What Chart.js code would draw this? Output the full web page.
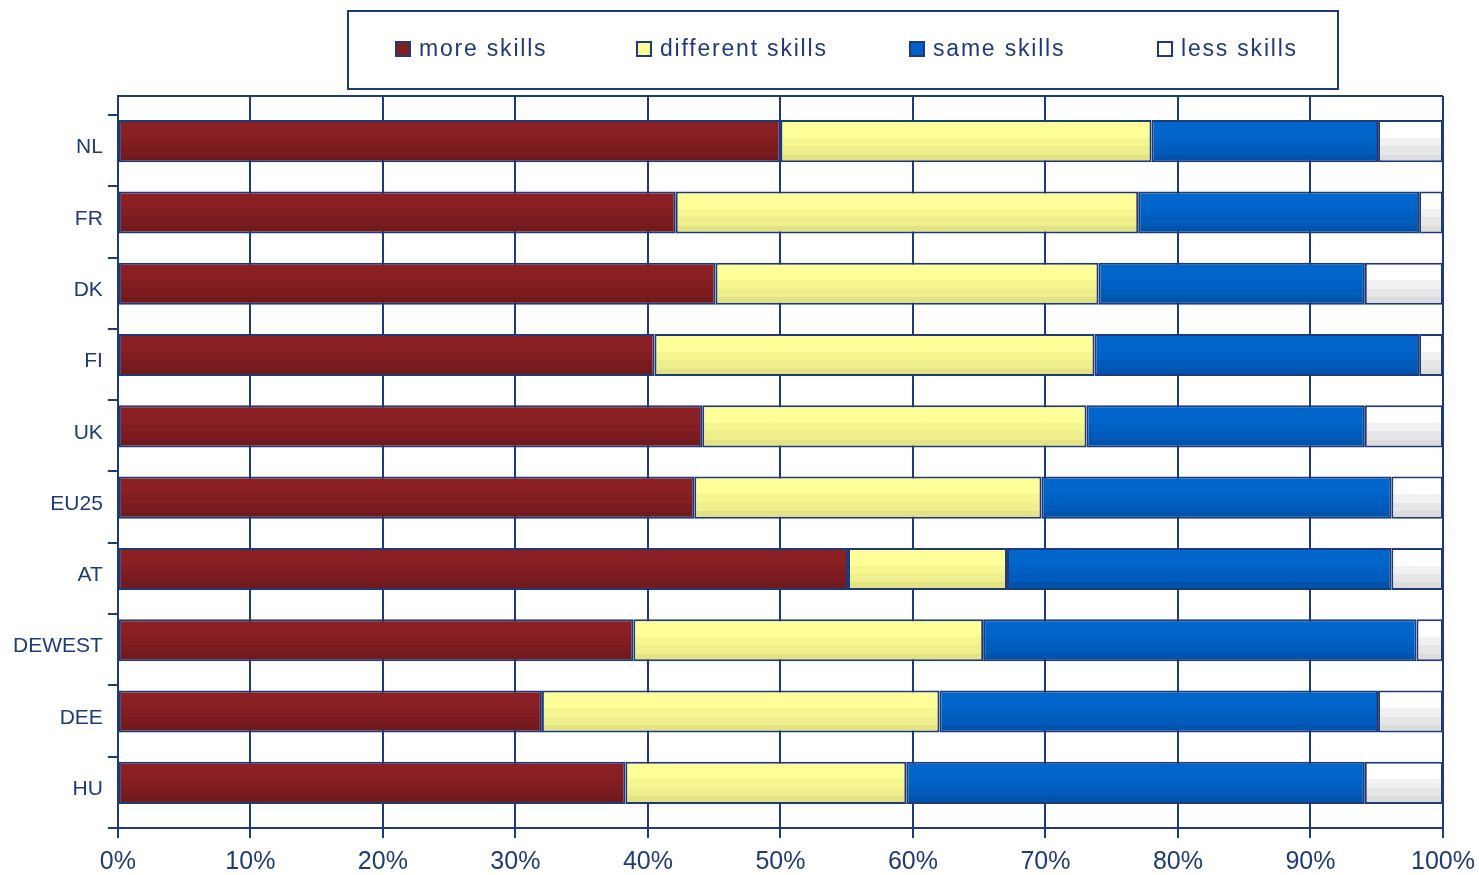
<!DOCTYPE html>
<html>
<head>
<meta charset="utf-8">
<script src="https://cdn.jsdelivr.net/npm/chart.js@4/dist/chart.umd.min.js"></script>
<style>
  body { margin: 0; background: #fff; }
  #wrap { width: 1479px; height: 875px; position: relative; }
</style>
</head>
<body>
<div id="wrap"><canvas id="skillsChart"></canvas></div>
<script>
var countries = ['NL', 'FR', 'DK', 'FI', 'UK', 'EU25', 'AT', 'DEWEST', 'DEE', 'HU'];
var moreSkills      = [50.0, 42.1, 45.1, 40.5, 44.1, 43.5, 55.1, 38.9, 32.0, 38.3];
var differentSkills = [28.0, 34.9, 28.9, 33.2, 29.0, 26.2, 12.0, 26.4, 30.0, 21.2];
var sameSkills      = [17.1, 21.2, 20.1, 24.5, 21.0, 26.4, 29.0, 32.7, 33.1, 34.6];
var lessSkills      = [4.9, 1.8, 5.9, 1.8, 5.9, 3.9, 3.9, 2.0, 4.9, 5.9];
var xTicks = [0, 10, 20, 30, 40, 50, 60, 70, 80, 90, 100];

var navy = '#1F3A78';
var barPct = 0.59;
var legendX = [396, 637, 910, 1158];

// excel-like banded shading, light on top, darker below
function shade(bands) {
  return function (ctx) {
    var chart = ctx.chart, y = chart.scales.y;
    if (!chart.chartArea || !y || ctx.type !== 'data') return bands[0];
    var c = y.getPixelForValue(ctx.dataIndex);
    var half = Math.abs(y.getPixelForValue(1) - y.getPixelForValue(0)) * barPct / 2;
    var g = chart.ctx.createLinearGradient(0, c - half, 0, c + half);
    g.addColorStop(0, bands[0]);
    g.addColorStop(0.42, bands[0]);
    g.addColorStop(0.42, bands[1]);
    g.addColorStop(0.62, bands[1]);
    g.addColorStop(0.62, bands[2]);
    g.addColorStop(0.82, bands[2]);
    g.addColorStop(0.82, bands[3]);
    g.addColorStop(1, bands[3]);
    return g;
  };
}

function toPoints(arr) {
  return arr.map(function (v, i) { return { x: v, y: i }; });
}

var series = [
  { label: 'more skills', data: moreSkills, bands: ['#8A1F24', '#821D22', '#7A1B20', '#701A1E'], swatch: '#7F1D22' },
  { label: 'different skills', data: differentSkills, bands: ['#FFFF99', '#F6F691', '#EEEE8C', '#E3E384'], swatch: '#FFFF99' },
  { label: 'same skills', data: sameSkills, bands: ['#0066CC', '#0061C4', '#005BBA', '#0053AC'], swatch: '#0060C8' },
  { label: 'less skills', data: lessSkills, bands: ['#FFFFFF', '#F1F1F1', '#E6E6E6', '#DCDCDC'], swatch: '#FFFFFF' }
];

var legendBox = {
  id: 'legendBox',
  afterDraw: function (chart) {
    var c = chart.ctx;
    c.save();
    c.strokeStyle = navy;
    c.lineWidth = 2;
    c.strokeRect(348, 11, 990, 78);
    c.font = '23px "Liberation Sans", Arial, sans-serif';
    c.letterSpacing = '1.8px';
    c.textBaseline = 'middle';
    var yMid = 49;
    chart.data.datasets.forEach(function (ds, i) {
      var x = legendX[i];
      c.fillStyle = series[i].swatch;
      c.fillRect(x, yMid - 7, 14, 14);
      c.lineWidth = 2;
      c.strokeStyle = navy;
      c.strokeRect(x, yMid - 7, 14, 14);
      c.fillStyle = navy;
      c.fillText(ds.label, x + 23, yMid + 1);
    });
    c.restore();
  }
};

var topLine = {
  id: 'topLine',
  beforeDatasetsDraw: function (chart) {
    var a = chart.chartArea, c = chart.ctx;
    c.save();
    c.strokeStyle = navy;
    c.lineWidth = 2;
    c.beginPath();
    c.moveTo(a.left, a.top);
    c.lineTo(a.right, a.top);
    c.stroke();
    c.restore();
  }
};

new Chart('skillsChart', {
  type: 'bar',
  data: {
    datasets: series.map(function (s) {
      return {
        label: s.label,
        data: toPoints(s.data),
        backgroundColor: shade(s.bands),
        borderColor: navy,
        borderWidth: 2,
        borderSkipped: false,
        categoryPercentage: 1,
        barPercentage: barPct
      };
    })
  },
  options: {
    indexAxis: 'y',
    responsive: true,
    maintainAspectRatio: false,
    animation: false,
    layout: { padding: { top: 96, left: 8, right: 36, bottom: 0 } },
    plugins: { legend: { display: false }, tooltip: { enabled: false } },
    scales: {
      x: {
        type: 'linear',
        stacked: true,
        min: 0,
        max: 100,
        afterBuildTicks: function (scale) {
          scale.ticks = xTicks.map(function (v) { return { value: v }; });
        },
        afterFit: function (scale) {
          scale.height = 47;
          scale.paddingLeft = 0;
          scale.paddingRight = 0;
        },
        ticks: {
          color: navy,
          padding: 9,
          font: { family: '"Liberation Sans", Arial, sans-serif', size: 25 },
          callback: function (v) { return v + '%'; },
          maxRotation: 0
        },
        grid: { color: navy, lineWidth: 2, tickLength: 10, tickColor: navy },
        border: { display: true, color: navy, width: 2 }
      },
      y: {
        type: 'linear',
        stacked: true,
        reverse: true,
        offset: false,
        min: -0.633,
        max: 9.633,
        weight: 2,
        afterBuildTicks: function (scale) {
          scale.ticks = countries.map(function (c, i) { return { value: i + 0.09 }; });
        },
        ticks: {
          color: navy,
          padding: 5,
          font: { family: '"Liberation Sans", Arial, sans-serif', size: 21 },
          callback: function (v) { return countries[Math.round(v)]; }
        },
        grid: { display: false, drawTicks: false, tickLength: 0, offset: false },
        border: { display: false }
      },
      y2: {
        type: 'linear',
        position: 'left',
        reverse: true,
        offset: false,
        min: -0.633,
        max: 9.633,
        weight: 1,
        afterBuildTicks: function (scale) {
          var t = [];
          for (var k = -1; k < countries.length; k++) t.push({ value: Math.min(k + 0.633, 9.633) });
          scale.ticks = t;
        },
        afterFit: function (scale) { scale.width = 10; },
        ticks: { display: false },
        grid: { drawOnChartArea: false, offset: false, color: navy, lineWidth: 2, tickLength: 10 },
        border: { display: true, color: navy, width: 2 }
      }
    }
  },
  plugins: [legendBox, topLine]
});
</script>
</body>
</html>
